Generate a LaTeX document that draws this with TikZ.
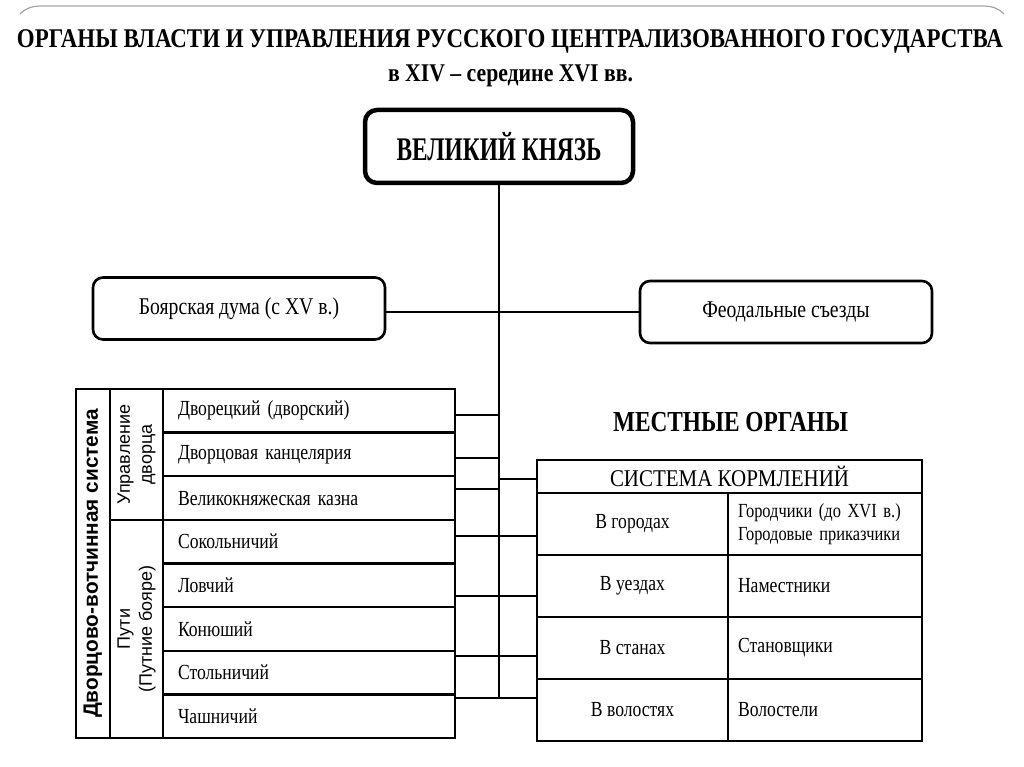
\documentclass[tikz,border=0pt]{standalone}
\usepackage{fontspec}
\setmainfont{Liberation Serif}[FakeStretch=0.82]
\setsansfont{Liberation Sans}
\usepackage{graphicx}
\usetikzlibrary{positioning}

\newcommand{\fitw}[2]{\resizebox{#1}{\height}{#2}}

\begin{document}
\begin{tikzpicture}[x=1pt, y=-1pt,
		box/.style = {draw, line width = 2.6pt, rounded corners = 10pt, minimum width = 292pt, minimum height = 62pt, font = \fontsize{24}{28}\selectfont},
		cell/.style = {draw, line width = 2.4pt, inner sep = 0pt},
		row/.style = {cell, minimum width = 292pt, minimum height = 43.625pt, text width = 262pt, align = left, font = \fontsize{21.5}{24}\selectfont},
		kcell/.style = {cell, minimum height = 62pt, font = \fontsize{21.5}{23}\selectfont},
		kright/.style = {kcell, minimum width = 194pt, text width = 174pt, align = left},
		side/.style = {cell, rotate = 90, align = center, font = \sffamily\fontsize{18}{22}\selectfont},
		conn/.style = {line width = 2.4pt}]
		\fill[white] (0,0) rectangle (1024,767);
		\useasboundingbox (0,0) rectangle (1024,767);
		
		% slide frame
		\draw[gray!70, line width = 1.2pt] (20,14) .. controls (26,8) and (32,6) .. (42,6) -- (982,6) .. controls (992,6) and (998,8) .. (1004,14);
		
		\node[anchor = base] (title) at (510,48) {\fitw{986pt}{\bfseries\fontsize{27}{30}\selectfont ОРГАНЫ ВЛАСТИ И УПРАВЛЕНИЯ РУССКОГО ЦЕНТРАЛИЗОВАННОГО ГОСУДАРСТВА}};
		\node[anchor = base] (subtitle) at (510.5,82) {\fitw{245pt}{\bfseries\fontsize{25.5}{28}\selectfont в XIV – середине XVI вв.}};
		
		\node[draw, line width = 4.5pt, rounded corners = 12pt, minimum width = 268pt, minimum height = 73pt] (kn) at (499,146.5) {\fitw{205pt}{\bfseries\fontsize{33}{36}\selectfont ВЕЛИКИЙ КНЯЗЬ}};
		
		\node[box] (bd) at (239,308.5) {Боярская дума (с XV в.)};
		\node[box] (fs) at (786,312) {Феодальные съезды};
		
		% left table
		\node[cell, rotate = 90, minimum width = 349pt, minimum height = 34pt, font = \sffamily\bfseries\fontsize{20.8}{22}\selectfont] (dvs) at (93,563.5) {Дворцово-вотчинная система};
		\node[side, minimum width = 130.9pt, minimum height = 53pt] (ud) at (136.5,454.4) {Управление\\дворца};
		\node[side, minimum width = 218.1pt, minimum height = 53pt] (pt) at (136.5,628.9) {Пути\\(Путние бояре)};
		
		\node[row] (r1) at (309,410.8) {Дворецкий (дворский)};
		\node[row] (r2) at (309,454.4) {Дворцовая канцелярия};
		\node[row] (r3) at (309,498.1) {Великокняжеская казна};
		\node[row] (r4) at (309,541.7) {Сокольничий};
		\node[row] (r5) at (309,585.3) {Ловчий};
		\node[row] (r6) at (309,629.0) {Конюший};
		\node[row] (r7) at (309,672.6) {Стольничий};
		\node[row] (r8) at (309,716.2) {Чашничий};
		
		% local bodies
		\node[anchor = base] (mo) at (730.5,431) {\fitw{235pt}{\bfseries\fontsize{29}{32}\selectfont МЕСТНЫЕ ОРГАНЫ}};
		
		\node[cell, minimum width = 385pt, minimum height = 33pt] (km) at (729.5,476.5) {\fitw{239pt}{\fontsize{24}{26}\selectfont СИСТЕМА КОРМЛЕНИЙ}};
		
		\node[kcell, minimum width = 191pt] (kl1) at (632.5,524) {В городах};
		\node[kcell, minimum width = 191pt] (kl2) at (632.5,586) {В уездах};
		\node[kcell, minimum width = 191pt] (kl3) at (632.5,648) {В станах};
		\node[kcell, minimum width = 191pt] (kl4) at (632.5,710) {В волостях};
		
		\node[kright, font = \fontsize{20}{23}\selectfont] (kr1) at (825,524) {\mbox{Городчики (до XVI в.)}\\\mbox{Городовые приказчики}};
		\node[kright] (kr2) at (825,586) {Наместники};
		\node[kright] (kr3) at (825,648) {Становщики};
		\node[kright] (kr4) at (825,710) {Волостели};
		
		% connectors
		\draw[conn] (kn.south) -- ([yshift = 18.2pt]r8.east -| kn.south);
		\draw[conn] (fs.west -| bd.east) -- (fs.west);
		
		\draw[conn] ([yshift = -4.2pt]r1.east) -- ([yshift = -4.2pt]r1.east -| kn.south);
		\draw[conn] ([yshift = -3.6pt]r2.east) -- ([yshift = -3.6pt]r2.east -| kn.south);
		\draw[conn] ([yshift = 9.1pt]r3.east) -- ([yshift = 9.1pt]r3.east -| kn.south);
		\draw[conn] ([yshift = -2.5pt]km.west) -- ([yshift = -2.5pt]km.west -| kn.south);
		
		\draw[conn] ([yshift = 5.7pt]r4.east) -- ([yshift = 5.7pt]r4.east -| kl1.west);
		\draw[conn] ([yshift = -10.7pt]r5.east) -- ([yshift = -10.7pt]r5.east -| kl2.west);
		\draw[conn] ([yshift = 16.6pt]r7.east) -- ([yshift = 16.6pt]r7.east -| kl3.west);
		\draw[conn] ([yshift = 18.2pt]r8.east) -- ([yshift = 18.2pt]r8.east -| kl4.west);
	\end{tikzpicture}
\end{document}
